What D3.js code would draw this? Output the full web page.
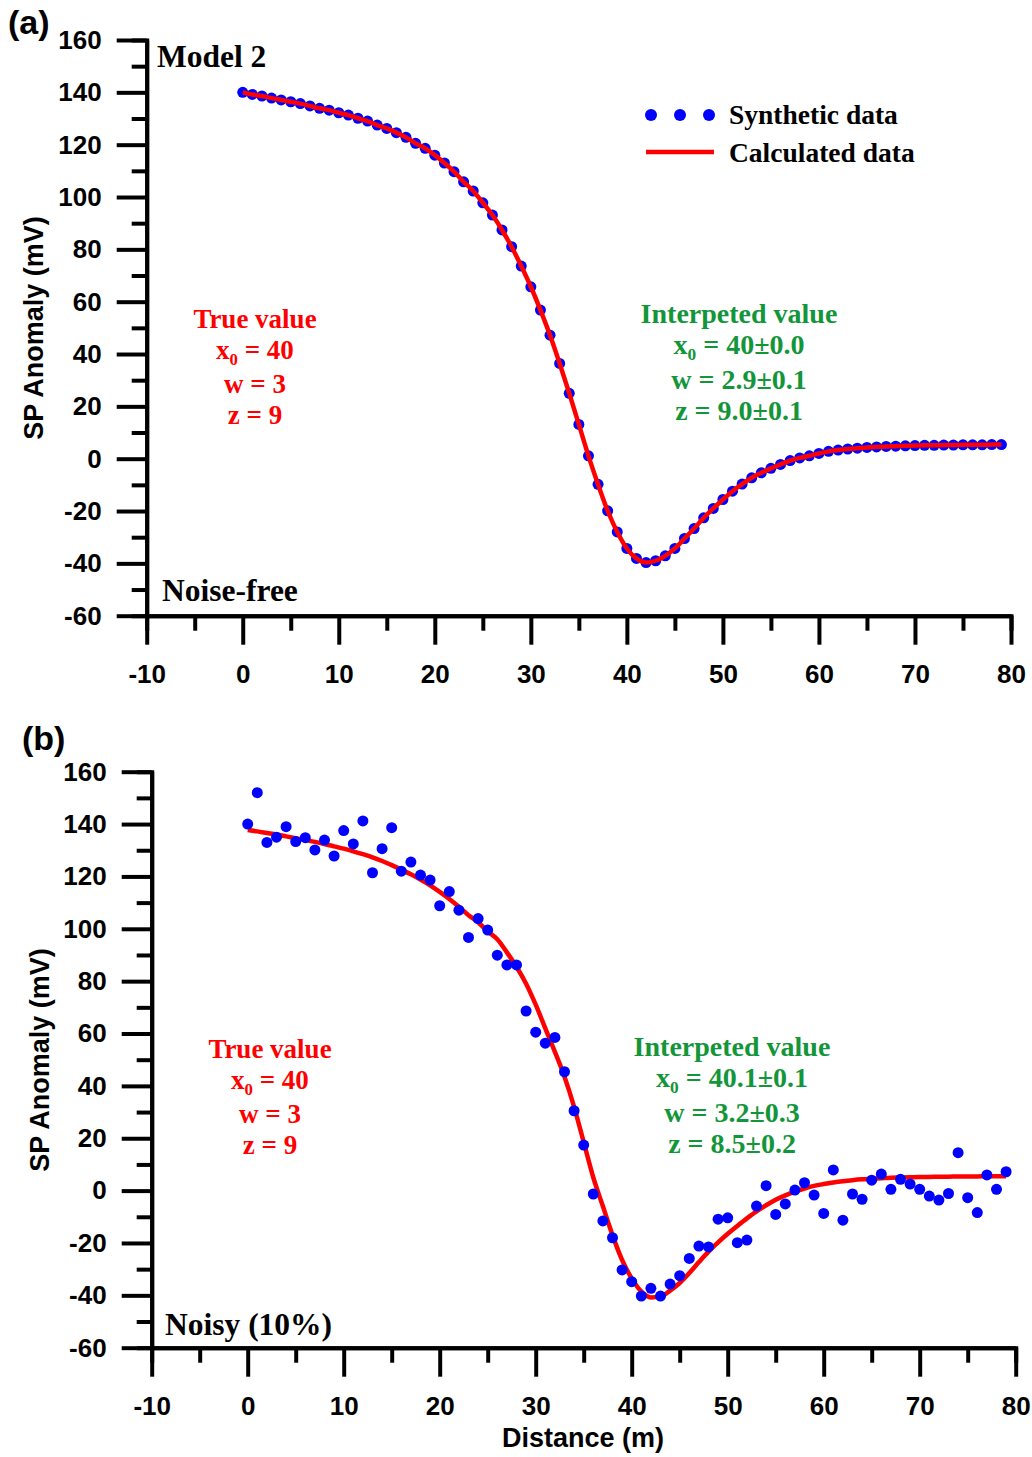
<!DOCTYPE html>
<html>
<head>
<meta charset="utf-8">
<script src="https://cdn.jsdelivr.net/npm/d3@7"></script>
<style>
  body { margin: 0; background: #fff; }
  .tick text { font-family: "Liberation Sans", Arial, sans-serif; font-weight: bold; font-size: 26px; fill: #000; }
  .serif { font-family: "Liberation Serif", "Times New Roman", serif; font-weight: bold; }
  .sans { font-family: "Liberation Sans", Arial, sans-serif; font-weight: bold; }
</style>
</head>
<body>
<div id="chart"></div>
<script>
// distance along the profile (m)
let distance = d3.range(0, 80);

// (a) noise-free synthetic SP anomaly (mV)
let syntheticA = [
  140, 139.2, 138.6, 137.8, 137.1, 136.4, 135.7, 134.8, 133.9, 133.2,
  132.2, 131.3, 130.1, 129, 127.5, 126.2, 124.6, 122.8, 120.5, 118.6,
  116, 113, 109.7, 105.8, 102.3, 97.8, 93.1, 87.4, 81, 73.6,
  65.7, 56.8, 47.2, 36.4, 25, 13.1, 1.1, -9.8, -19.9, -28,
  -34.3, -38.1, -39.7, -39, -37.1, -34.3, -30.5, -26.7, -22.6, -19,
  -15.6, -12.4, -9.7, -7.3, -5.4, -3.7, -2.2, -0.7, 0.3, 1.1,
  2.0, 2.8, 3.3, 3.7, 4.0, 4.3, 4.5, 4.7, 4.8, 4.9,
  5.0, 5.1, 5.1, 5.2, 5.2, 5.3, 5.3, 5.3, 5.4, 5.4
];
// (a) calculated response overlays the synthetic data
let calculatedA = syntheticA;

// (b) noisy (10%) synthetic SP anomaly (mV)
let noisyB = [
  140, 152, 133, 135, 139, 133.3, 134.8, 130.1, 133.9, 127.8,
  137.5, 132.4, 141.2, 121.4, 130.6, 138.6, 122, 125.5, 120.5, 118.6,
  108.8, 114.2, 107.1, 96.7, 103.9, 99.5, 89.9, 86.2, 86.2, 68.6,
  60.5, 56.3, 58.5, 45.4, 30.5, 17.4, -1.3, -11.6, -18, -30.3,
  -34.8, -40.3, -37.3, -40.3, -35.7, -32.5, -25.9, -21.2, -21.5, -10.9,
  -10.4, -19.9, -18.9, -5.9, 1.9, -9.1, -5.1, 0.2, 3.0, -1.7,
  -8.7, 7.9, -11.3, -1.3, -3.3, 4.0, 6.3, 0.5, 4.3, 2.5,
  0.5, -2.1, -3.6, -1.1, 14.5, -2.7, -8.4, 6.0, 0.5, 7.2
];
// (b) calculated response of the inverted model
let calculatedB = [
  137.7, 137.2, 136.6, 136, 135.3, 134.6, 133.9, 133.2, 132.4, 131.5,
  130.6, 129.6, 128.5, 127.3, 125.9, 124.3, 122.6, 120.8, 118.8, 116.6,
  114.1, 111.4, 108.4, 105.2, 102.5, 99, 96, 91, 85.5, 79,
  71, 62, 53, 43.5, 32, 18.5, 5, -6, -17, -26.5,
  -33.5, -38.5, -40.8, -40.5, -38.2, -35.3, -31.5, -27.3, -23.3, -19.8,
  -16.5, -13.5, -10.6, -7.9, -5.6, -3.5, -1.8, -0.4, 0.8, 1.8,
  2.5, 3.1, 3.6, 4.0, 4.3, 4.5, 4.7, 4.9, 5.0, 5.1,
  5.2, 5.2, 5.3, 5.3, 5.4, 5.4, 5.4, 5.5, 5.5, 5.5
];

let xMajor = d3.range(-10, 81, 10),
    xMinor = d3.range(-5, 80, 10),
    yMajor = d3.range(-60, 161, 20),
    yMinor = d3.range(-50, 160, 20);

let trueLines  = [["x", "0", " = 40"], ["w = 3"], ["z = 9"]];
let interpA    = [["x", "0", " = 40\u00b10.0"], ["w = 2.9\u00b10.1"], ["z = 9.0\u00b10.1"]];
let interpB    = [["x", "0", " = 40.1\u00b10.1"], ["w = 3.2\u00b10.3"], ["z = 8.5\u00b10.2"]];

const RED = "#ff0000", BLUE = "#0000ff", GREEN = "#13963a";

let svg = d3.select("#chart").append("svg")
  .attr("width", 1032).attr("height", 1457);
svg.append("rect").attr("width", 1032).attr("height", 1457).attr("fill", "#fff");

function drawPanel(p) {
  let x = d3.scaleLinear().domain([-10, 80]).range([p.left, p.right]);
  let y = d3.scaleLinear().domain([-60, 160]).range([p.bottom, p.top]);
  let g = svg.append("g");

  // minor ticks
  g.append("g").attr("transform", translate(0, p.bottom))
    .call(d3.axisBottom(x).tickValues(xMinor).tickSize(15).tickFormat(""));
  g.append("g").attr("transform", translate(p.left, 0))
    .call(d3.axisLeft(y).tickValues(yMinor).tickSize(15).tickFormat(""));

  // major ticks + labels
  g.append("g").attr("transform", translate(0, p.bottom))
    .call(d3.axisBottom(x).tickValues(xMajor).tickSize(29).tickSizeOuter(0)
      .tickPadding(20).tickFormat(d => String(d)));
  g.append("g").attr("transform", translate(p.left, 0))
    .call(d3.axisLeft(y).tickValues(yMajor).tickSize(30).tickSizeOuter(0)
      .tickPadding(15).tickFormat(d => String(d)));

  g.selectAll(".domain, .tick line")
    .attr("stroke", "#000").attr("stroke-width", 4);

  // y title
  svg.append("text").attr("class", "sans")
    .attr("transform", translate(p.yTitleX, p.yTitleY) + " rotate(-90)")
    .attr("text-anchor", "middle").attr("dy", "0.35em")
    .attr("font-size", 27).text("SP Anomaly (mV)");

  let line = d3.line().x((d, i) => x(distance[i])).y(d => y(d)).curve(d3.curveMonotoneX);

  g.append("path").datum(p.calc)
    .attr("fill", "none").attr("stroke", RED).attr("stroke-width", 4.5)
    .attr("d", line);

  let dots = g.selectAll(".dot").data(p.obs).enter().append("circle")
    .attr("cx", (d, i) => x(distance[i]))
    .attr("cy", d => y(d))
    .attr("r", p.r).attr("fill", BLUE);
  if (p.dotsBehind) dots.lower();

  return { x, y };
}

function block(cx, baselines, color, size, title, lines) {
  let all = [[title]].concat(lines);
  all.forEach((parts, i) => {
    let t = svg.append("text").attr("class", "serif")
      .attr("x", cx).attr("y", baselines[i])
      .attr("text-anchor", "middle").attr("font-size", size).attr("fill", color);
    if (parts.length === 3) {
      t.append("tspan").text(parts[0]);
      t.append("tspan").attr("font-size", size * 0.62).attr("dy", 6).text(parts[1]);
      t.append("tspan").attr("dy", -6).text(parts[2]);
    } else {
      t.text(parts[0]);
    }
  });
}

function label(x, y, txt, size, cls) {
  svg.append("text").attr("class", cls || "serif")
    .attr("x", x).attr("y", y).attr("font-size", size).attr("fill", "#000").text(txt);
}

// ---- panel (a) ----
drawPanel({
  left: 146.7, right: 1011, top: 40, bottom: 615.7,
  obs: syntheticA, calc: calculatedA, r: 5.5, dotsBehind: true,
  yTitleX: 34, yTitleY: 328
});
label(8, 34, "(a)", 34, "sans");
label(157, 67, "Model 2", 31.5);
label(162, 601, "Noise-free", 31.5);
block(255, [328, 359, 393, 424], RED, 27, "True value", trueLines);
block(739, [323, 354, 389, 420], GREEN, 28, "Interpeted value", interpA);

// legend
[651, 680, 709].forEach(cx =>
  svg.append("circle").attr("cx", cx).attr("cy", 115).attr("r", 6).attr("fill", BLUE));
svg.append("line").attr("x1", 646).attr("x2", 714).attr("y1", 152).attr("y2", 152)
  .attr("stroke", RED).attr("stroke-width", 4.5);
label(729, 124, "Synthetic data", 27.5);
label(729, 162, "Calculated data", 27.5);

// ---- panel (b) ----
drawPanel({
  left: 151.7, right: 1015.7, top: 771.7, bottom: 1347.7,
  obs: noisyB, calc: calculatedB, r: 5.5, dotsBehind: false,
  yTitleX: 40, yTitleY: 1060
});
label(22, 750, "(b)", 34, "sans");
label(165, 1335, "Noisy (10%)", 31.5);
block(270, [1058, 1089, 1123, 1154], RED, 27, "True value", trueLines);
block(732, [1056, 1087, 1122, 1153], GREEN, 28, "Interpeted value", interpB);

svg.append("text").attr("class", "sans")
  .attr("x", 583).attr("y", 1447).attr("text-anchor", "middle")
  .attr("font-size", 27).text("Distance (m)");

function translate(x, y = 0) {
  return "translate({x}, {y})".replace("{x}", x).replace("{y}", y);
}
</script>
</body>
</html>
